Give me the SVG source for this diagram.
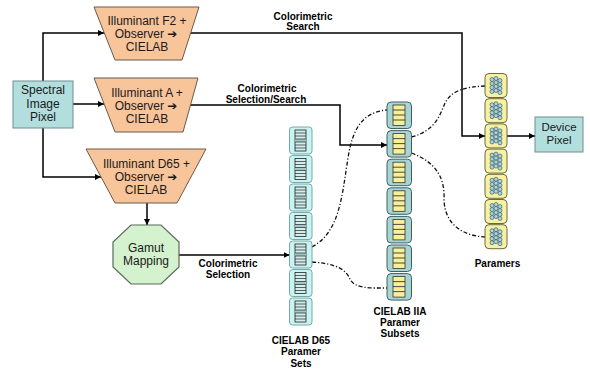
<svg xmlns="http://www.w3.org/2000/svg" width="590" height="373" viewBox="0 0 590 373">
  <style>
    .node-text { font-family: "Liberation Sans", Arial, sans-serif; font-size: 12px; fill: #1a1a1a; text-anchor: middle; }
    .small { font-size: 11.5px; }
    .arr { font-family: "DejaVu Sans", sans-serif; font-weight: bold; font-size: 12px; }
    .label { font-family: "Liberation Sans", Arial, sans-serif; font-size: 10px; font-weight: bold; fill: #000; text-anchor: middle; }
    .trap { fill: #f8c49a; stroke: #6b5a4a; stroke-width: 1; }
    .box { fill: #b2dede; stroke: #6e8e8e; stroke-width: 1; }
    .octa { fill: #d3f2cd; stroke: #5a6a5a; stroke-width: 1.2; }
    .wire { fill: none; stroke: #000; stroke-width: 1.5; }
    .dash { fill: none; stroke: #111; stroke-width: 1.3; stroke-dasharray: 4 2 1.2 2; }
    .tick { stroke: #7a8a8a; stroke-width: 0.7; }
    .ball { fill: #a6d6e4; stroke: #2e4a5a; stroke-width: 0.6; }
  </style>
  <defs>
    <marker id="arrow" viewBox="0 0 6 6" refX="6" refY="3" markerWidth="6" markerHeight="6" markerUnits="userSpaceOnUse" orient="auto">
      <path d="M0,0 L6,3 L0,6 z" fill="#000"/>
    </marker>
    <!-- cell of the D65 paramer set column -->
    <g id="cellD65">
      <rect x="0" y="0" width="22.5" height="27" rx="3" fill="#c8f4f4" stroke="#7aa8a8" stroke-width="1"/>
      <rect x="5.5" y="3" width="11" height="21" fill="#d4eeee" stroke="#222" stroke-width="0.8"/>
      <rect x="5.5" y="12" width="11" height="3" fill="#9fc9c9"/>
      <path d="M5.5,6H16.5M5.5,9H16.5M5.5,12H16.5M5.5,15H16.5M5.5,18H16.5M5.5,21H16.5" stroke="#222" stroke-width="0.7"/>
    </g>
    <!-- cell of the IIA subset column -->
    <g id="cellIIA">
      <rect x="0" y="0" width="24.5" height="26.5" rx="4" fill="#a8d4d4" stroke="#3e6262" stroke-width="1"/>
      <rect x="6" y="3" width="12" height="20.5" fill="#f7ef9a" stroke="#333" stroke-width="0.8"/>
      <path d="M6,8H18M6,13H18M6,18H18" stroke="#222" stroke-width="0.8"/>
    </g>
    <!-- cell of the paramers column -->
    <g id="cellPar">
      <rect x="0" y="0" width="22" height="24" rx="4" fill="#f8f0a2" stroke="#6b6b3a" stroke-width="1"/>
      <circle class="ball" cx="7" cy="6" r="2"/>
      <circle class="ball" cx="7" cy="10" r="2"/>
      <circle class="ball" cx="7" cy="14" r="2"/>
      <circle class="ball" cx="7" cy="18" r="2"/>
      <circle class="ball" cx="11" cy="5" r="2"/>
      <circle class="ball" cx="11" cy="9" r="2"/>
      <circle class="ball" cx="11" cy="13" r="2"/>
      <circle class="ball" cx="11" cy="17" r="2"/>
      <circle class="ball" cx="15" cy="7" r="2"/>
      <circle class="ball" cx="15" cy="11" r="2"/>
      <circle class="ball" cx="15" cy="15" r="2"/>
      <circle class="ball" cx="15" cy="19" r="2"/>
    </g>
  </defs>

  <rect width="590" height="373" fill="#fff"/>

  <!-- connectors -->
  <g id="connectors">
    <path class="wire" d="M43,81 V33 H104" marker-end="url(#arrow)"/>
    <path class="wire" d="M73,104 H104" marker-end="url(#arrow)"/>
    <path class="wire" d="M43,128 V177 H101" marker-end="url(#arrow)"/>
    <path class="wire" d="M186,33 H462 V136 H485" marker-end="url(#arrow)"/>
    <path class="wire" d="M186,105 H340 V145 H387" marker-end="url(#arrow)"/>
    <path class="wire" d="M147,203 V225" marker-end="url(#arrow)"/>
    <path class="wire" d="M179,255 H289.5" marker-end="url(#arrow)"/>
    <path class="wire" d="M496,136 H535" marker-end="url(#arrow)"/>
    <!-- links between paramer columns -->
    <path class="tick" d="M306,247 H312 M306,262 H312 M405,137 H411.5 M405,153 H411.5"/>
    <path class="dash" d="M312,247 C340,232 342,195 348,158 C353,125 365,112 387,110"/>
    <path class="dash" d="M312,262 C338,264 346,270 350,279 C355,289 370,288 387,288"/>
    <path class="dash" d="M411.5,137 C435,131 440,115 445,103 C452,90 465,87 485,86"/>
    <path class="dash" d="M411.5,153 C438,163 445,180 444,200 C445,226 465,236 485,237"/>
  </g>

  <!-- connector labels -->
  <g id="connector-labels">
    <text class="label" x="303" y="19.5">Colorimetric</text>
    <text class="label" x="303" y="30">Search</text>
    <text class="label" x="267" y="92">Colorimetric</text>
    <text class="label" x="266" y="102.5">Selection/Search</text>
    <text class="label" x="228" y="267">Colorimetric</text>
    <text class="label" x="228" y="278">Selection</text>
  </g>

  <g id="spectral-pixel">
    <rect class="box" x="13" y="81" width="60" height="47"/>
    <text class="node-text" x="43" y="94">Spectral</text>
    <text class="node-text" x="43" y="107.5">Image</text>
    <text class="node-text" x="43" y="121">Pixel</text>
  </g>

  <g id="illuminant-f2">
    <polygon class="trap" points="94,7 199,7 182,60 115,60"/>
    <text class="node-text" x="147" y="25">Illuminant F2 +</text>
    <text class="node-text" x="146" y="38">Observer <tspan class="arr">➔</tspan></text>
    <text class="node-text" x="147" y="51">CIELAB</text>
  </g>

  <g id="illuminant-a">
    <polygon class="trap" points="94,78 198,78 183,132 115,132"/>
    <text class="node-text" x="147" y="96.5">Illuminant A +</text>
    <text class="node-text" x="146" y="109.5">Observer <tspan class="arr">➔</tspan></text>
    <text class="node-text" x="147" y="123">CIELAB</text>
  </g>

  <g id="illuminant-d65">
    <polygon class="trap" points="86,149 206,149 177,203 115,203"/>
    <text class="node-text" x="146.5" y="168">Illuminant D65 +</text>
    <text class="node-text" x="146" y="181">Observer <tspan class="arr">➔</tspan></text>
    <text class="node-text" x="146" y="194">CIELAB</text>
  </g>

  <g id="gamut-mapping">
    <polygon class="octa" points="131,225 161,225 179,242 179,267 161,284 131,284 113,267 113,242"/>
    <text class="node-text" x="146" y="252">Gamut</text>
    <text class="node-text" x="146" y="265">Mapping</text>
  </g>

  <g id="d65-paramer-sets">
    <use href="#cellD65" x="289.5" y="127"/>
    <use href="#cellD65" x="289.5" y="155.5"/>
    <use href="#cellD65" x="289.5" y="184"/>
    <use href="#cellD65" x="289.5" y="212.5"/>
    <use href="#cellD65" x="289.5" y="241"/>
    <use href="#cellD65" x="289.5" y="269.5"/>
    <use href="#cellD65" x="289.5" y="298"/>
    <text class="label" x="301" y="343.5">CIELAB D65</text>
    <text class="label" x="301" y="355">Paramer</text>
    <text class="label" x="301" y="366.5">Sets</text>
  </g>

  <g id="iia-paramer-subsets">
    <use href="#cellIIA" x="387" y="102"/>
    <use href="#cellIIA" x="387" y="130.6"/>
    <use href="#cellIIA" x="387" y="159.2"/>
    <use href="#cellIIA" x="387" y="187.8"/>
    <use href="#cellIIA" x="387" y="216.4"/>
    <use href="#cellIIA" x="387" y="245"/>
    <use href="#cellIIA" x="387" y="273.6"/>
    <text class="label" x="400" y="315">CIELAB IIA</text>
    <text class="label" x="400" y="325.5">Paramer</text>
    <text class="label" x="400" y="336.5">Subsets</text>
  </g>

  <g id="paramers">
    <use href="#cellPar" x="485" y="73.5"/>
    <use href="#cellPar" x="485" y="98.7"/>
    <use href="#cellPar" x="485" y="123.9"/>
    <use href="#cellPar" x="485" y="149.1"/>
    <use href="#cellPar" x="485" y="174.3"/>
    <use href="#cellPar" x="485" y="199.5"/>
    <use href="#cellPar" x="485" y="224.7"/>
    <text class="label" x="497.5" y="267">Paramers</text>
  </g>

  <g id="device-pixel">
    <rect class="box" x="535" y="117" width="48" height="35"/>
    <text class="node-text small" x="559" y="130.5">Device</text>
    <text class="node-text small" x="559" y="144">Pixel</text>
  </g>
</svg>
